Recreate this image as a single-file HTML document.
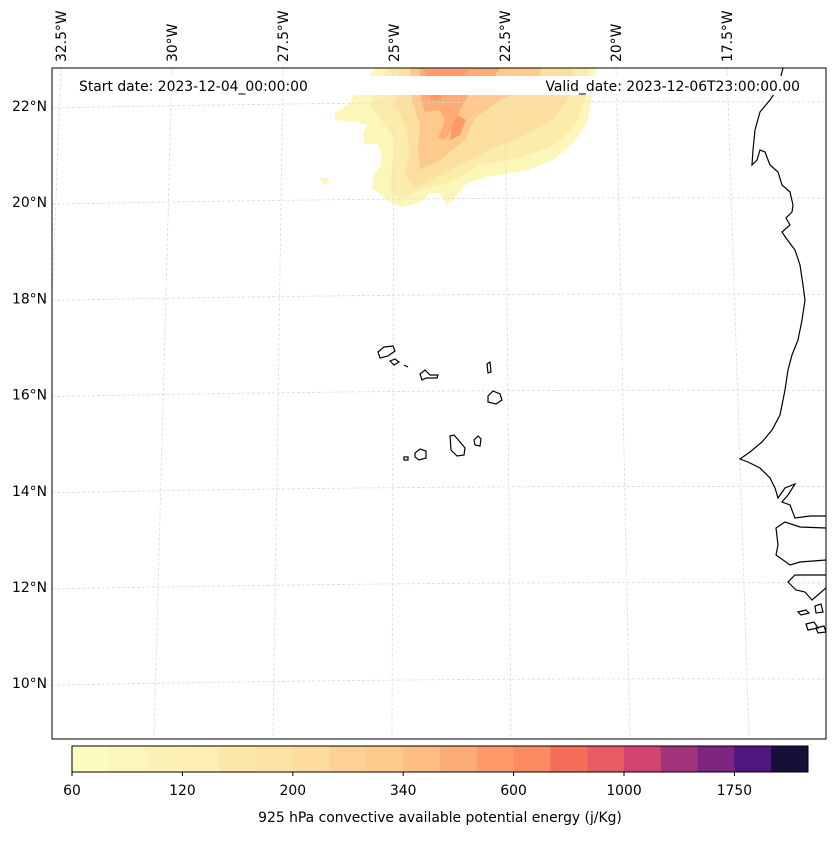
<!DOCTYPE html>
<html><head><meta charset="utf-8">
<style>
html,body{margin:0;padding:0;background:#fff;}
body{width:837px;height:836px;overflow:hidden;font-family:"Liberation Sans","DejaVu Sans",sans-serif;}
svg text{font-family:"DejaVu Sans","Liberation Sans",sans-serif;font-size:13.9px;fill:#000;}
</style></head>
<body>
<svg id="chart" width="837" height="836" viewBox="0 0 837 836" xmlns="http://www.w3.org/2000/svg">
  <defs><clipPath id="mapclip"><rect x="52" y="68" width="774" height="671"/></clipPath></defs>
  <g id="map" clip-path="url(#mapclip)">
    <g id="cape-field" stroke-linejoin="round">
      <path fill="#fcf6b9" d="M382,60 L597,60 L593,93 L587,123 L573,143 L553,160 L527,170 L487,177 L467,183 L453,200 L447,205 L440,193 L430,193 L420,203 L400,207 L387,200 L372,188 L373,177 L380,167 L382,153 L377,143 L365,145 L363,133 L367,125 L357,122 L335,120 L335,113 L350,103 L353,95 Z"/>
      <path fill="#fcf6b9" d="M320,178 L330,178 L325,186 Z"/>
      <path fill="#fcecac" d="M390,60 L590,60 L585,100 L575,125 L555,145 L520,158 L480,165 L455,180 L440,185 L420,190 L402,198 L390,192 L392,170 L395,140 L380,118 L370,105 L380,85 Z"/>
      <path fill="#fde0a0" d="M400,60 L575,60 L570,95 L555,118 L525,135 L490,150 L460,165 L435,178 L415,188 L405,175 L410,150 L405,125 L395,105 Z"/>
      <path fill="#fdc98c" d="M410,60 L545,60 L535,85 L500,100 L475,118 L465,140 L440,160 L420,170 L418,150 L420,125 L412,100 Z"/>
      <path fill="#fdac76" d="M420,68 L500,68 L490,82 L470,92 L460,110 L455,125 L445,140 L438,138 L445,120 L440,110 L425,112 L420,95 Z"/>
      <path fill="#fd9a68" d="M425,70 L470,70 L450,85 L440,100 L430,100 Z M458,115 L466,120 L460,135 L450,140 L452,125 Z"/>
    </g>
    <g id="gridlines" stroke="#dadada" stroke-width="0.8" stroke-dasharray="3,2" fill="none"></g>
    <g id="coast" stroke="#000" stroke-width="1.2" fill="none">
      <polyline points="783,68 778,88 770,100 760,112 755,130 753,150 752,165 757,160 760,150 765,152 770,165 778,172 782,185 790,192 793,205 792,212 786,218 790,225 782,232 786,238 795,250 800,265 803,285 805,300 802,320 798,340 792,355 788,370 785,390 780,415 772,430 762,442 750,452 740,459 748,462 760,468 770,478 775,488 778,498 785,488 795,484 788,495 782,502 790,505 795,518 810,516 826,516"/>
      <polyline points="826,528 800,527 785,522 776,528 778,545 776,555 790,565 800,562 826,560"/>
      <polyline points="826,575 805,575 795,575 788,582 796,590 805,592 812,600 826,588"/>
      <path d="M798,612 l8,-2 l3,3 l-8,2 Z M815,606 l6,-2 l2,8 l-7,1 Z M806,624 l8,-2 l4,6 l-10,2 Z M816,628 l8,-2 l2,6 l-8,1 Z"/>
      <g>
        <path d="M378,352 L384,347 L393,346 L395,351 L388,356 L380,358 Z"/>
        <path d="M390,361 L395,359 L399,362 L394,365 Z"/>
        <path d="M404,365 L408,367"/>
        <path d="M420,374 L425,370 L430,375 L438,375 L437,378 L426,378 L422,380 Z"/>
        <path d="M487,364 L490,362 L491,372 L488,373 Z"/>
        <path d="M488,396 L493,391 L500,394 L502,400 L496,404 L488,402 Z"/>
        <path d="M474,440 L478,436 L481,439 L480,446 L475,445 Z"/>
        <path d="M450,436 L454,435 L460,442 L465,448 L464,455 L457,456 L451,450 Z"/>
        <path d="M415,453 L420,449 L426,451 L426,458 L419,460 L415,457 Z"/>
        <path d="M404,457 L408,457 L408,460 L404,460 Z"/>
      </g>
    </g>
    <rect x="70" y="76" width="740" height="19" fill="#fff"/>
    <text x="79" y="91">Start date: 2023-12-04_00:00:00</text>
    <text x="800" y="91" text-anchor="end">Valid_date: 2023-12-06T23:00:00.00</text>
  </g>
  <rect x="52" y="68" width="774" height="671" fill="none" stroke="#000" stroke-width="1"/>
  <g id="lonlabels"></g>
  <g id="latlabels"></g>
  <g id="colorbar"></g>
  <text x="440" y="822" text-anchor="middle">925 hPa convective available potential energy (j/Kg)</text>
</svg>
<script>
const lonLabels = ["32.5°W","30°W","27.5°W","25°W","22.5°W","20°W","17.5°W"];
const lonValues = [-32.5,-30,-27.5,-25,-22.5,-20,-17.5];
const latLabels = ["22°N","20°N","18°N","16°N","14°N","12°N","10°N"];
const latValues = [22,20,18,16,14,12,10];
const cbarColors = ["#fdfbc0","#fdf6bb","#fcf2b5","#fcefb1","#fce8a8","#fde3a3","#fddc9e","#fdd195","#fdc98c","#fdbd84","#fdac76","#fd9a68","#fd8a62","#f46e5a","#ea5a64","#d2446f","#a3337a","#7e2580","#511580","#150f3a"];
const cbarTickLabels = ["60","120","200","340","600","1000","1750"];
const cbarTickIndex = [0,3,6,9,12,15,18];

const NS = "http://www.w3.org/2000/svg";
function mk(tag, attrs, parent){const e=document.createElementNS(NS,tag);for(const k in attrs)e.setAttribute(k,attrs[k]);parent.appendChild(e);return e;}
function lonTopX(lon){return 394 + (lon+25)*44.4;}
function lonBotX(lon){return 392 + (lon+25)*47.6;}
function latY(lat){return 106 + (22-lat)*48.1;}

const grid=document.getElementById('gridlines');
lonValues.forEach(lon=>{
  const l=mk('line',{x1:lonTopX(lon),y1:68,x2:lonBotX(lon),y2:739},grid);
  
  
});
latValues.forEach(lat=>{
  const y=latY(lat);
  const p=mk('path',{d:`M52,${y+2} Q440,${y-6} 826,${y-4}`},grid);
  
  
});
const lonG=document.getElementById('lonlabels');
lonValues.forEach((lon,i)=>{
  const x=lonTopX(lon)+5;
  const t=mk('text',{x:x,y:62,transform:`rotate(-90 ${x} 62)`},lonG);
  t.textContent=lonLabels[i];
  
  
});
const latG=document.getElementById('latlabels');
latValues.forEach((lat,i)=>{
  const t=mk('text',{x:47,y:latY(lat)+5,'text-anchor':'end'},latG);
  t.textContent=latLabels[i];
  
  
});
const cb=document.getElementById('colorbar');
const cbX=72,cbW=736,cbY=746,cbH=26,segW=cbW/cbarColors.length;
cbarColors.forEach((c,i)=>{
  const r=mk('rect',{x:cbX+i*segW,y:cbY,width:segW+0.5,height:cbH,fill:c},cb);
  
  
});
const fr=mk('rect',{x:cbX,y:cbY,width:cbW,height:cbH,fill:'none',stroke:'#000','stroke-width':1},cb);


cbarTickIndex.forEach((idx,i)=>{
  const x=cbX+idx*segW;
  const tk=mk('line',{x1:x,y1:cbY+cbH,x2:x,y2:cbY+cbH+4,stroke:'#000'},cb);
  
  
  const t=mk('text',{x:x,y:795,'text-anchor':'middle'},cb);
  t.textContent=cbarTickLabels[i];
  
  
});
</script>
</body></html>
